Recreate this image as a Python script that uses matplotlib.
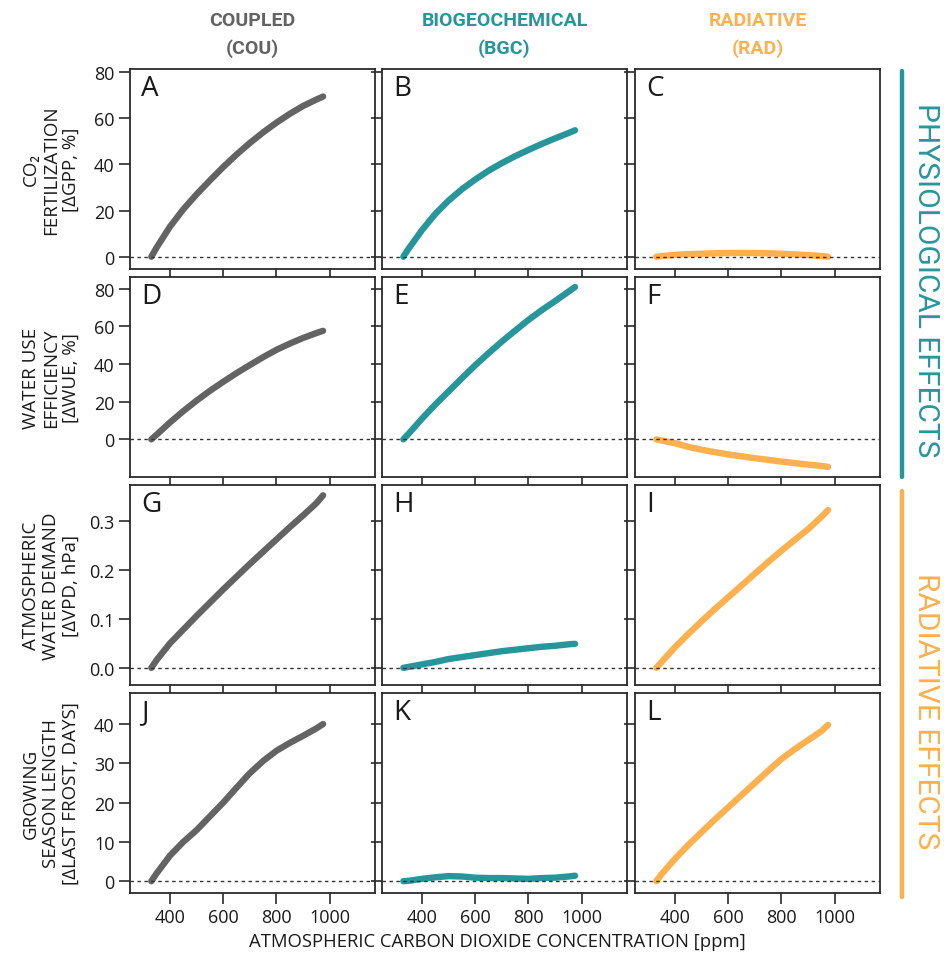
import matplotlib
matplotlib.use("Agg")
import matplotlib.pyplot as plt
from matplotlib.lines import Line2D

# ---------------- data ----------------
co2 = [330, 350, 400, 450, 500, 550, 600, 650, 700, 750, 800, 850, 900, 950, 975]

gpp_cou = [0, 4, 13, 20.5, 27, 33, 38.8, 44.2, 49.2, 53.8, 58, 61.8, 65.2, 68, 69.3]
gpp_bgc = [0, 3.5, 11.5, 18.5, 24.3, 29.2, 33.4, 37.2, 40.5, 43.5, 46.2, 48.8, 51.2, 53.5, 54.7]
gpp_rad = [0, 0.3, 0.8, 1.1, 1.3, 1.5, 1.6, 1.65, 1.6, 1.5, 1.3, 1.0, 0.7, 0.3, 0]

wue_cou = [0, 2.5, 9, 15, 20.6, 25.8, 30.6, 35.2, 39.5, 43.7, 47.6, 50.9, 53.9, 56.5, 57.7]
wue_bgc = [0, 3, 11, 18.5, 25.5, 32.5, 39.4, 45.8, 52, 57.8, 63.5, 68.7, 73.5, 78.5, 81]
wue_rad = [0, -0.6, -2, -4, -5.5, -6.8, -8, -9, -10, -10.9, -11.8, -12.6, -13.4, -14.1, -14.6]

vpd_cou = [0, 0.016, 0.050, 0.078, 0.106, 0.133, 0.160, 0.186, 0.212, 0.237, 0.262, 0.287, 0.311, 0.336, 0.352]
vpd_bgc = [0, 0.002, 0.007, 0.012, 0.018, 0.022, 0.026, 0.030, 0.034, 0.037, 0.040, 0.043, 0.045, 0.048, 0.049]
vpd_rad = [0, 0.012, 0.042, 0.069, 0.095, 0.120, 0.144, 0.168, 0.192, 0.216, 0.239, 0.261, 0.283, 0.308, 0.322]

gsl_cou = [0, 2, 6.5, 10, 13, 16.5, 20, 23.8, 27.5, 30.6, 33.2, 35.2, 37, 38.9, 40]
gsl_bgc = [0, 0.1, 0.6, 1.0, 1.3, 1.2, 0.9, 0.8, 0.8, 0.7, 0.6, 0.8, 0.9, 1.2, 1.4]
gsl_rad = [0, 1.8, 5.7, 9.2, 12.5, 15.7, 18.8, 21.9, 25, 28.1, 31.1, 33.6, 35.9, 38.2, 39.8]

col_titles = ["COUPLED\n(COU)", "BIOGEOCHEMICAL\n(BGC)", "RADIATIVE\n(RAD)"]
row_labels = ["CO\u2082\nFERTILIZATION\n[\u0394GPP, %]",
              "WATER USE\nEFFICIENCY\n[\u0394WUE, %]",
              "ATMOSPHERIC\nWATER DEMAND\n[\u0394VPD, hPa]",
              "GROWING\nSEASON LENGTH\n[\u0394LAST FROST, DAYS]"]
panel_letters = ["A", "B", "C", "D", "E", "F", "G", "H", "I", "J", "K", "L"]
x_ticks = [400, 600, 800, 1000]
y_ticks = [[0, 20, 40, 60, 80], [0, 20, 40, 60, 80],
           [0.0, 0.1, 0.2, 0.3], [0, 10, 20, 30, 40]]
y_ticklabels = [["0", "20", "40", "60", "80"], ["0", "20", "40", "60", "80"],
                ["0.0", "0.1", "0.2", "0.3"], ["0", "10", "20", "30", "40"]]
y_limits = [(-5.3, 81.2), (-20, 86.3), (-0.035, 0.373), (-3, 47.9)]
x_limits = (250, 1170)
x_label = "ATMOSPHERIC CARBON DIOXIDE CONCENTRATION [ppm]"
side_labels = ["PHYSIOLOGICAL EFFECTS", "RADIATIVE EFFECTS"]

series = [[gpp_cou, gpp_bgc, gpp_rad],
          [wue_cou, wue_bgc, wue_rad],
          [vpd_cou, vpd_bgc, vpd_rad],
          [gsl_cou, gsl_bgc, gsl_rad]]

# ---------------- style ----------------
colors = ["#636363", "#27969b", "#fdb04e"]
base_font = ["Open Sans", "DejaVu Sans"]
narrow = ["Roboto", "DejaVu Sans"]
plt.rcParams["font.family"] = base_font

W, H = 944, 954
fig = plt.figure(figsize=(W / 100, H / 100), dpi=100)

col_left = [130, 382, 635]
row_top = [70, 278, 486, 694]
aw, ah = 245, 200
spine_c = "#2a2a2a"

for r in range(4):
    for c in range(3):
        l = col_left[c]
        t = row_top[r]
        ax = fig.add_axes([l / W, (H - t - ah) / H, aw / W, ah / H])
        ax.plot(co2, series[r][c], color=colors[c], lw=4.6,
                solid_capstyle="round", solid_joinstyle="round", zorder=2)
        ax.axhline(0, color="#333333", lw=1.0, ls=(0, (2.5, 2.5)), zorder=3)
        ax.set_xlim(*x_limits)
        ax.set_ylim(*y_limits[r])
        ax.set_xticks(x_ticks)
        ax.set_yticks(y_ticks[r])
        ax.tick_params(direction="out", length=8, width=1.2, color=spine_c,
                       labelsize=13, pad=3, labelcolor="#1a1a1a")
        if c == 0:
            ax.set_yticklabels(y_ticklabels[r])
        else:
            ax.set_yticklabels([])
        if r == 3:
            ax.set_xticklabels([str(v) for v in x_ticks])
        else:
            ax.set_xticklabels([])
        for s in ax.spines.values():
            s.set_color(spine_c)
            s.set_linewidth(1.3)
        ax.text(0.045, 0.975, panel_letters[r * 3 + c], transform=ax.transAxes,
                ha="left", va="top", fontsize=20, color="#1a1a1a")

# row labels
for r in range(4):
    yc = row_top[r] + ah / 2
    fig.text(51 / W, 1 - yc / H, row_labels[r], rotation=90, ha="center",
             va="center", multialignment="center", fontsize=13.5,
             linespacing=1.12, color="#1a1a1a")

# column titles
for c in range(3):
    xc = col_left[c] + aw / 2
    fig.text(xc / W, 1 - 35 / H, col_titles[c], ha="center", va="center",
             multialignment="center", fontsize=14, fontweight="bold",
             family=narrow, color=colors[c], linespacing=1.6)

# x label
fig.text(497 / W, 1 - 942 / H, x_label, ha="center", va="center",
         fontsize=13.3, color="#1a1a1a")

# side bars and labels
fig.add_artist(Line2D([902 / W, 902 / W], [1 - 72 / H, 1 - 478 / H],
                      color=colors[1], lw=3.2, solid_capstyle="round"))
fig.add_artist(Line2D([902 / W, 902 / W], [1 - 492 / H, 1 - 898 / H],
                      color=colors[2], lw=3.2, solid_capstyle="round"))
fig.text(926 / W, 1 - 280 / H, side_labels[0], rotation=270, ha="center",
         va="center", fontsize=21.5, family=narrow, fontweight="normal",
         color=colors[1])
fig.text(926 / W, 1 - 711 / H, side_labels[1], rotation=270, ha="center",
         va="center", fontsize=21.5, family=narrow, fontweight="normal",
         color=colors[2])

fig.savefig("out.png", dpi=100, facecolor="white")
